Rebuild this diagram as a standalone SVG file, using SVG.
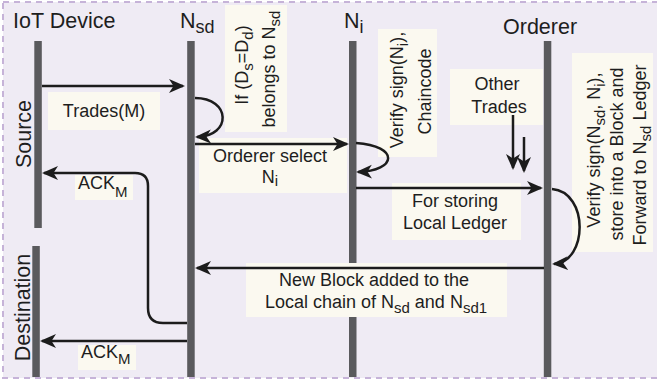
<svg xmlns="http://www.w3.org/2000/svg" width="657" height="384" viewBox="0 0 657 384">
<defs>
<style>
text{font-family:"Liberation Sans",Arial,sans-serif;fill:#1e1e1e}
.title{font-size:21.5px}
.lbl{font-size:18px}
.sub{font-size:15px}
.tsub{font-size:18px}
.box{fill:#fbf9f0}
.life{fill:#5a5a5d}
.conn{fill:none;stroke:#1c1c1c;stroke-width:2.5}
.arr{marker-end:url(#ah)}
</style>
<marker id="ah" markerUnits="userSpaceOnUse" markerWidth="18" markerHeight="16" refX="14" refY="7" orient="auto">
<path d="M0,0 L16,7 L0,14 L4.5,7 z" fill="#1c1c1c"/>
</marker>
</defs>
<rect x="0" y="0" width="657" height="384" fill="#ffffff"/>
<rect x="3" y="2" width="700" height="376" fill="#efebf4" stroke="#c6b3d8" stroke-width="2" stroke-dasharray="6,5"/>

<g id="iot-device">
<text class="title" x="13" y="28">IoT Device</text>
<rect class="life" x="34.3" y="41" width="7.5" height="187"/>
<text class="title" transform="rotate(-90)" x="-134" y="31" text-anchor="middle">Source</text>
</g>
<g id="destination">
<rect class="life" x="32.3" y="246" width="7.5" height="131"/>
<text class="title" transform="rotate(-90)" x="-307.5" y="29.5" text-anchor="middle">Destination</text>
</g>
<g id="nsd">
<text class="title" x="180" y="28">N<tspan class="tsub" dy="5">sd</tspan></text>
<rect class="life" x="187.2" y="41" width="7.5" height="336"/>
</g>
<g id="ni">
<text class="title" x="344" y="28">N<tspan class="tsub" dy="5">i</tspan></text>
<rect class="life" x="349" y="41" width="7.5" height="336"/>
</g>
<g id="orderer">
<text class="title" x="503" y="34">Orderer</text>
<rect class="life" x="543.8" y="41" width="7.5" height="336"/>
</g>

<g id="label-boxes">
<rect class="box" x="48" y="92" width="112" height="38"/>
<rect class="box" x="225" y="5" width="62" height="127"/>
<rect class="box" x="199" y="138" width="148" height="55"/>
<rect class="box" x="378" y="29" width="59" height="128"/>
<rect class="box" x="450" y="69" width="93" height="56"/>
<rect class="box" x="392" y="183" width="129" height="57"/>
<rect class="box" x="572" y="53" width="81" height="199"/>
<rect class="box" x="246" y="263" width="261" height="54"/>
<rect class="box" x="75" y="175" width="58" height="25"/>
<rect class="box" x="78" y="345" width="58" height="25"/>
</g>

<g id="connectors">
<path class="conn arr" d="M42,86 H183"/>
<path class="conn arr" d="M195,98 C231,98 232,136 197,137"/>
<path class="conn arr" d="M195,144 H347"/>
<path class="conn arr" d="M356,143 C400,146 397,171 358,172"/>
<path class="conn arr" d="M356,188 H541"/>
<path class="conn arr" d="M513,115 V168"/>
<path class="conn arr" d="M524,137 V171"/>
<path class="conn arr" d="M552,189 C589,192 588,262 554,264"/>
<path class="conn arr" d="M544,268 H197"/>
<path class="conn arr" d="M187,323 H163 Q148,323 148,308 V186 Q148,173 135,173 H44"/>
<path class="conn arr" d="M187,341 H42"/>
</g>

<g id="labels">
<text class="lbl" x="104" y="117" text-anchor="middle">Trades(M)</text>
<text class="lbl" transform="rotate(-90)" x="-65" y="248" text-anchor="middle">If (D<tspan class="sub" dy="5">s</tspan><tspan dy="-5">=D</tspan><tspan class="sub" dy="5">d</tspan><tspan dy="-5">)</tspan></text>
<text class="lbl" transform="rotate(-90)" x="-69" y="275" text-anchor="middle">belongs to N<tspan class="sub" dy="5">sd</tspan></text>
<text class="lbl" x="270" y="162" text-anchor="middle">Orderer select</text>
<text class="lbl" x="270" y="183" text-anchor="middle">N<tspan class="sub" dy="3">i</tspan></text>
<text class="lbl" transform="rotate(-90)" x="-90" y="403" text-anchor="middle">Verify sign(N<tspan class="sub" dy="5">i</tspan><tspan dy="-5">),</tspan></text>
<text class="lbl" transform="rotate(-90)" x="-91.5" y="431" text-anchor="middle">Chaincode</text>
<text class="lbl" x="497" y="90" text-anchor="middle">Other</text>
<text class="lbl" x="499" y="113" text-anchor="middle">Trades</text>
<text class="lbl" x="455" y="207" text-anchor="middle">For storing</text>
<text class="lbl" x="455" y="229" text-anchor="middle">Local Ledger</text>
<text class="lbl" transform="rotate(-90)" x="-150" y="600" text-anchor="middle">Verify sign(N<tspan class="sub" dy="5">sd</tspan><tspan dy="-5">, N</tspan><tspan class="sub" dy="5">i</tspan><tspan dy="-5">),</tspan></text>
<text class="lbl" transform="rotate(-90)" x="-154" y="623" text-anchor="middle">store into a Block and</text>
<text class="lbl" transform="rotate(-90)" x="-155" y="646" text-anchor="middle">Forward to N<tspan class="sub" dy="5">sd</tspan><tspan dy="-5"> Ledger</tspan></text>
<text class="lbl" x="374" y="286" text-anchor="middle">New Block added to the</text>
<text class="lbl" x="376" y="308" text-anchor="middle">Local chain of N<tspan class="sub" dy="5">sd</tspan><tspan dy="-5"> and N</tspan><tspan class="sub" dy="5">sd1</tspan></text>
<text class="lbl" x="78" y="189">ACK<tspan class="sub" dy="8">M</tspan></text>
<text class="lbl" x="81" y="358">ACK<tspan class="sub" dy="6">M</tspan></text>
</g>
</svg>
